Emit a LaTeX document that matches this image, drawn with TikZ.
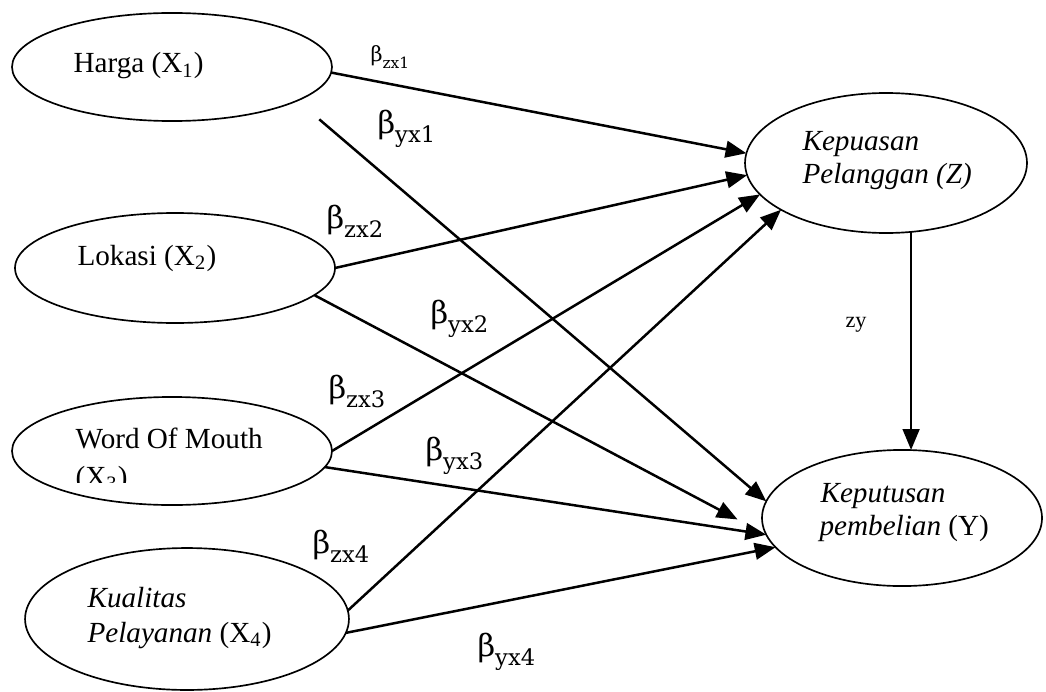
\documentclass[tikz,border=0pt]{standalone}
\usepackage{fontspec}
\usepackage{graphicx}
\setmainfont{Liberation Serif}
\newfontfamily\betafont{DejaVu Serif}
\usetikzlibrary{arrows.meta,shapes.geometric}
\newcommand{\koef}[1]{{\betafont β\raisebox{-0.32em}{\scalebox{0.74}{#1}}}}

\begin{document}
\begin{tikzpicture}[x=0.36pt,y=0.36pt,
		var/.style={draw,ellipse,line width=0.6pt,inner sep=0pt,outer sep=0pt},
		txt/.style={anchor=base west,inner sep=0pt,font=\fontsize{10.5}{12}\selectfont},
		coef/.style={anchor=base west,inner sep=0pt,font=\fontsize{11}{11}\selectfont},
		arr/.style={line width=0.9pt,-{Triangle[length=7.5pt,width=6pt]}}]
						\useasboundingbox (0,0) rectangle (1046,-691);
						\node [var,minimum width=115.2pt,minimum height=38.9pt] (x1) at (172,-67) {};
						\node [var,minimum width=115.2pt,minimum height=39.6pt] (x2) at (175,-268) {};
						\node [var,minimum width=115.2pt,minimum height=38.9pt] (x3) at (172,-451) {};
						\node [var,minimum width=116.6pt,minimum height=51.1pt] (x4) at (187,-619) {};
						\node [var,minimum width=101.5pt,minimum height=50.4pt] (z) at (886,-163) {};
						\node [var,minimum width=100.8pt,minimum height=49pt] (y) at (902,-518) {};
						\node [txt] (tx1) at (73,-73) {Harga (X\textsubscript{1})};
						\node [txt] (tx2) at (77,-265) {Lokasi (X\textsubscript{2})};
						\node [txt] (tx3) at (75,-448) {Word Of Mouth};
						\begin{scope}
							\clip (60,-440) rectangle (300,-482);
							\node [txt] (tx3b) at (75,-486) {(X\textsubscript{3})};
						\end{scope}
						\node [txt] (tx4) at (87,-607) {\textit{Kualitas}};
						\node [txt] (tx4b) at (87,-642) {\textit{Pelayanan} (X\textsubscript{4})};
						\node [txt] (tz) at (802,-150) {\textit{Kepuasan}};
						\node [txt] (tzb) at (802,-183) {\textit{Pelanggan (Z)}};
						\node [txt] (ty) at (820,-502) {\textit{Keputusan}};
						\node [txt] (tyb) at (819,-535) {\textit{pembelian} (Y)};
						\draw [arr] (x1.-2) -- (z.176);
						\draw [arr,shorten <=10.4pt] (x1.-15.5) -- (y.173);
						\draw [arr] (x2.0) -- (z.185);
						\draw [arr,shorten >=11.7pt] (x2.-11) -- (y.187);
						\draw [arr] (x3.0) -- (z.194);
						\draw [arr] (x3.-6) -- (y.187);
						\draw [arr] (x4.3) -- (z.204);
						\draw [arr] (x4.-5) -- (y.193);
						\draw [arr] (z.-70) -- (z.-70 |- y.north);
						\node [coef,font=\fontsize{7.5}{7.5}\selectfont] (bzx1) at (370,-62) {\koef{zx1}};
						\node [coef] (byx1) at (377,-133) {\koef{yx1}};
						\node [coef] (bzx2) at (326,-228) {\koef{zx2}};
						\node [coef] (byx2) at (430,-323) {\koef{yx2}};
						\node [coef] (bzx3) at (328,-398) {\koef{zx3}};
						\node [coef] (byx3) at (425,-460) {\koef{yx3}};
						\node [coef] (bzx4) at (312,-553) {\koef{zx4}};
						\node [coef] (byx4) at (477,-656) {\koef{yx4}};
						\node [anchor=base west,inner sep=0pt,font=\fontsize{8}{8}\selectfont] (zy) at (845,-327) {zy};
					\end{tikzpicture}
\end{document}
